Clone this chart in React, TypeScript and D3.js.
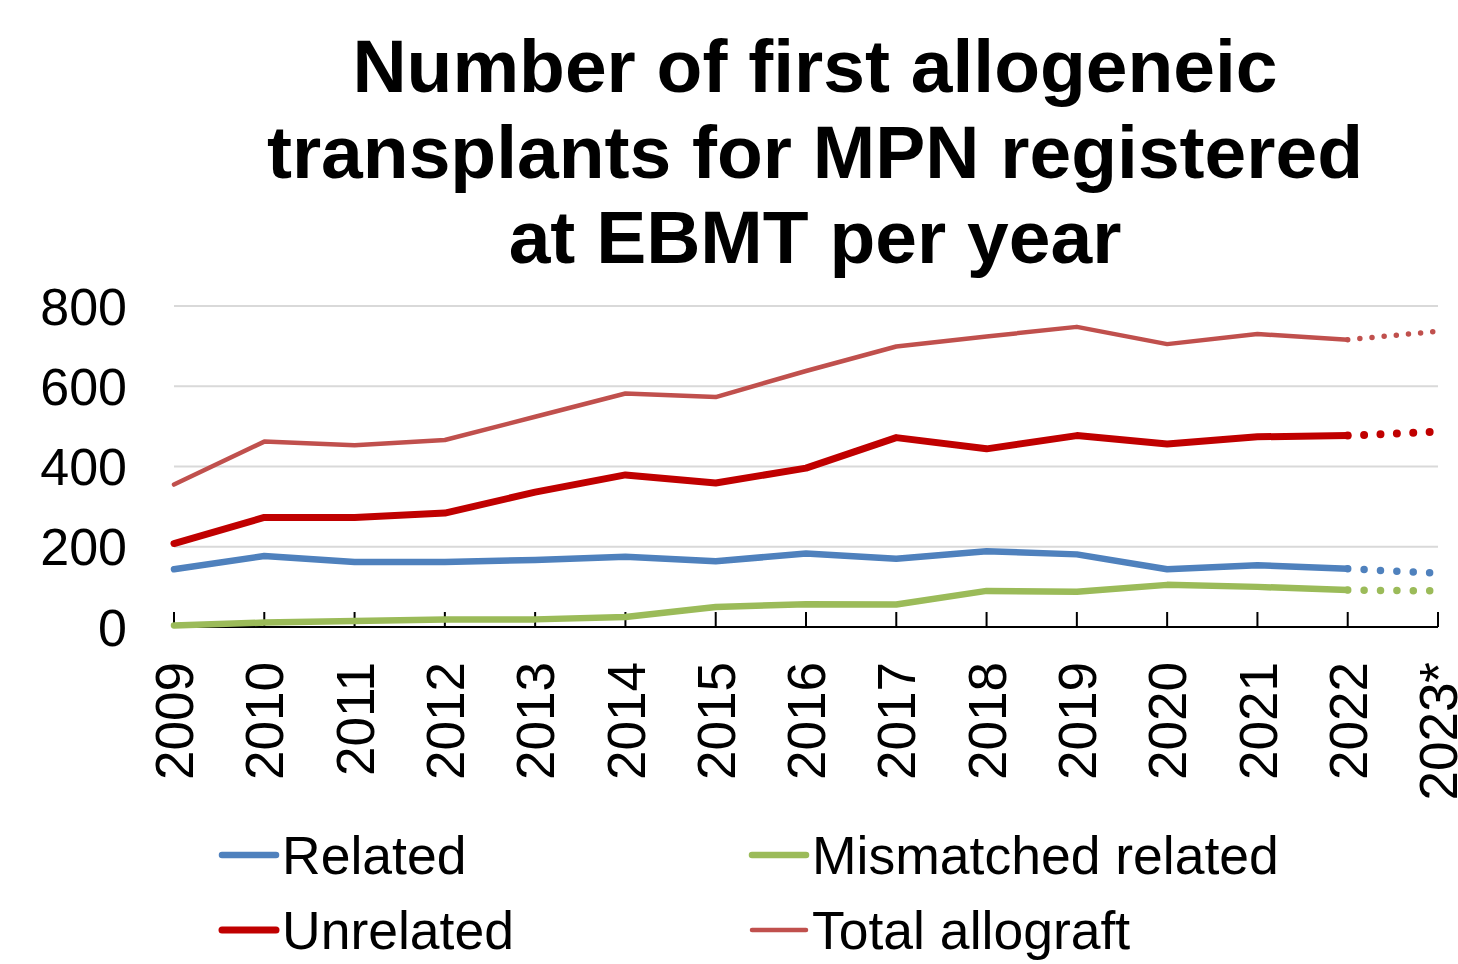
import React, { useEffect } from "react";
import * as d3 from "d3";

const years = ["2009","2010","2011","2012","2013","2014","2015","2016","2017","2018","2019","2020","2021","2022","2023*"];
const related = [144,177,162,162,167,175,164,183,170,189,181,144,154,145,134];
const unrelated = [208,273,273,284,336,379,359,396,472,444,477,456,474,477,487];
const mismatched = [4,11,15,19,19,25,50,57,56,90,88,105,100,92,90];
const total = [355,462,453,466,524,582,573,638,699,724,748,705,730,716,737];
const yTicks = [0,200,400,600,800];
const titleLines = ["Number of first allogeneic","transplants for MPN registered","at EBMT per year"];

const seriesList = [
  { name: "Related", values: related, color: "#4F81BD", width: 6.5, gap: 16.4 },
  { name: "Unrelated", values: unrelated, color: "#C00000", width: 7, gap: 16.4 },
  { name: "Mismatched related", values: mismatched, color: "#9BBB59", width: 6.5, gap: 16.4 },
  { name: "Total allograft", values: total, color: "#C0504D", width: 4.5, gap: 12.2 },
];

const FONT = "'Liberation Sans', Arial, sans-serif";

export default function App() {
  useEffect(() => {
    document.body.style.margin = "0";
  }, []);

  const W = 1458, H = 964;
  const x = d3.scalePoint<string>().domain(years).range([174, 1438]);
  const y = d3.scaleLinear().domain([0, 800]).range([627, 306]);
  const line = d3.line<number>().x((_, i) => x(years[i]) as number).y((d) => y(d));
  const lineOffset = (off: number) =>
    d3.line<number>().x((_, i) => x(years[i + off]) as number).y((d) => y(d));
  const last = years.length - 1;

  const legendItems = [
    { s: seriesList[0], lx: 222, ty: 855 },
    { s: seriesList[2], lx: 752, ty: 855 },
    { s: seriesList[1], lx: 222, ty: 930 },
    { s: seriesList[3], lx: 752, ty: 930 },
  ];

  return (
    <svg width={W} height={H} style={{ display: "block", background: "#fff" }} fontFamily={FONT}>
      {titleLines.map((t, i) => (
        <text key={t} x={815} y={92 + i * 85.5} textAnchor="middle" fontSize={75} fontWeight="bold" fill="#000">
          {t}
        </text>
      ))}
      {yTicks.filter((t) => t > 0).map((t) => (
        <line key={"g" + t} x1={174} x2={1438} y1={y(t)} y2={y(t)} stroke="#d9d9d9" strokeWidth={2} />
      ))}
      {yTicks.map((t) => (
        <text key={"yl" + t} x={127} y={y(t)} dy="0.36em" textAnchor="end" fontSize={52} fill="#000">
          {t}
        </text>
      ))}
      <line x1={174} x2={1438} y1={y(0)} y2={y(0)} stroke="#000" strokeWidth={2} />
      {years.map((yr) => (
        <line key={"t" + yr} x1={x(yr)} x2={x(yr)} y1={y(0)} y2={y(0) - 15} stroke="#000" strokeWidth={2} />
      ))}
      {years.map((yr) => (
        <text
          key={"xl" + yr}
          transform={`translate(${x(yr)},662) rotate(-90)`}
          textAnchor="end"
          dy="0.36em"
          fontSize={53}
          fill="#000"
        >
          {yr}
        </text>
      ))}
      {seriesList.map((s) => (
        <g key={s.name}>
          <path
            d={line(s.values.slice(0, last)) || ""}
            fill="none"
            stroke={s.color}
            strokeWidth={s.width}
            strokeLinejoin="round"
            strokeLinecap="round"
          />
          <path
            d={lineOffset(last - 1)(s.values.slice(last - 1)) || ""}
            fill="none"
            stroke={s.color}
            strokeWidth={s.width + 1}
            strokeLinecap="round"
            strokeDasharray={`0 ${s.gap}`}
          />
        </g>
      ))}
      {legendItems.map(({ s, lx, ty }) => (
        <g key={"lg" + s.name}>
          <line x1={lx} x2={lx + 54} y1={ty} y2={ty} stroke={s.color} strokeWidth={s.width} strokeLinecap="round" />
          <text x={lx + 60} y={ty} dy="0.36em" fontSize={53.5} fill="#000">
            {s.name}
          </text>
        </g>
      ))}
    </svg>
  );
}
